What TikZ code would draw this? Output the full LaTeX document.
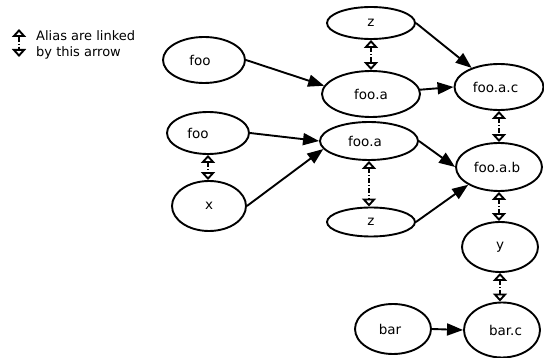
\documentclass[tikz,border=0pt]{standalone}
\usepackage{fontspec}
\setmainfont{DejaVu Sans}
\usetikzlibrary{shapes.geometric,arrows.meta}
\newcommand\txtshift[2]{\hspace*{#1}#2}
\tikzset{
  nd/.style={draw, ellipse, line width=1.9pt, inner sep=0pt, font=\fontsize{13.5}{15}\selectfont},
  link/.style={line width=1.9pt, -{Triangle[length=16pt,width=12pt]}},
  alias/.style={line width=1.9pt, dash pattern=on 5pt off 2pt on 1pt off 2pt,
    {Triangle[open,length=8pt,width=14pt,line width=1.9pt]}-{Triangle[open,length=8pt,width=14pt,line width=1.9pt]}},
}
\begin{document}
\begin{tikzpicture}[x=1pt,y=-1pt]
\useasboundingbox (0,0) rectangle (544,358);
% nodes
\node[nd, minimum width=88pt, minimum height=32pt] (ztop) at (371,23) {z};
\node[nd, minimum width=82pt, minimum height=46pt] (foo1) at (204,60) {\txtshift{-8pt}{foo}};
\node[nd, minimum width=98pt, minimum height=46pt] (fooa1) at (371,94) {\raisebox{-3pt}{foo.a}};
\node[nd, minimum width=89pt, minimum height=46pt] (fooac) at (499,87) {\txtshift{-7pt}{foo.a.c}};
\node[nd, minimum width=82pt, minimum height=42pt] (foo2) at (208,133) {\txtshift{-20pt}{foo}};
\node[nd, minimum width=98pt, minimum height=38pt] (fooa2) at (369,141) {\txtshift{-8pt}{foo.a}};
\node[nd, minimum width=86pt, minimum height=48pt] (fooab) at (499,167) {\txtshift{-4pt}{foo.a.b}};
\node[nd, minimum width=74pt, minimum height=50pt] (x) at (209,206) {x};
\node[nd, minimum width=88pt, minimum height=29pt] (zbot) at (371,222) {z};
\node[nd, minimum width=76pt, minimum height=50pt] (y) at (500,247) {y};
\node[nd, minimum width=76pt, minimum height=50pt] (bar) at (393,329) {\txtshift{-6pt}{bar}};
\node[nd, minimum width=76pt, minimum height=55pt] (barc) at (502,330) {\txtshift{7pt}{bar.c}};
% links
\draw[link] (foo1.east) -- (fooa1.170);
\draw[link] (fooa1.5) -- (fooac.west);
\draw[link] (ztop.east) -- (fooac.145);
\draw[link] (foo2.east) -- (fooa2.west);
\draw[link] (x.east) -- (fooa2.190);
\draw[link] (fooa2.east) -- (fooab.west);
\draw[link] (zbot.east) -- (fooab.210);
\draw[link] (bar.east) -- (barc.west);
% aliases
\draw[alias] (ztop.south) -- (ztop.south |- fooa1.north);
\draw[alias] (foo2.south) -- (foo2.south |- x.north);
\draw[alias] (fooa2.south) -- (fooa2.south |- zbot.north);
\draw[alias] (fooac.south) -- (fooac.south |- fooab.north);
\draw[alias] (fooab.south) -- (fooab.south |- y.north);
\draw[alias] (y.south) -- (y.south |- barc.north);
% legend
\coordinate (la) at (19,29);
\coordinate (lb) at (19,57);
\draw[alias] (la) -- (lb);
\node[anchor=west, align=left, inner sep=0pt, font=\fontsize{13}{16}\selectfont] (legend) at (36,45) {Alias are linked\\by this arrow};
\end{tikzpicture}
\end{document}
